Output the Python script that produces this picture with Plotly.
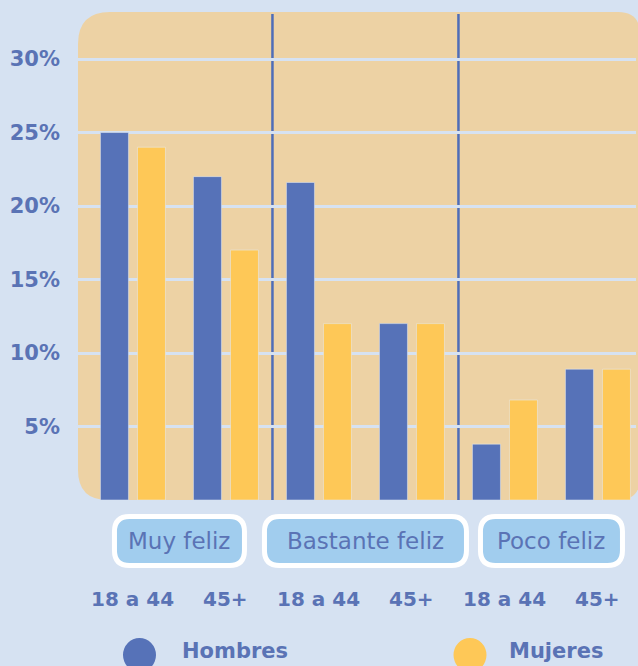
import plotly.graph_objects as go

# data
age_groups = ["18 a 44", "45+", "18 a 44", "45+", "18 a 44", "45+"]
categories = ["Muy feliz", "Bastante feliz", "Poco feliz"]
series_names = ["Hombres", "Mujeres"]
hombres = [25, 22, 21.6, 12, 3.8, 8.9]
mujeres = [24, 17, 12, 12, 6.8, 8.9]
y_ticks = [5, 10, 15, 20, 25, 30]

BLUE = "#5672B8"
YELLOW = "#FEC857"
TEXT = "#5A73B5"
PAGE = "#D6E2F2"
PANEL = "#EDD2A4"
FONT = "DejaVu Sans"

W, H = 638, 666
L, R, T, B = 78, 2, 12, 166
PW, PH = W - L - R, H - T - B
XMIN, XMAX = -0.591, 5.409


def px(x):
    return (x - L) / PW


def py(y):
    return (H - B - y) / PH


def dx(c):
    # data x -> pixel x
    return L + (c - XMIN) / (XMAX - XMIN) * PW


def rounded(x0, y0, x1, y1, rtl, rtr, rbr, rbl):
    p = lambda x, y: f"{px(x):.5f},{py(y):.5f}"
    return (f"M {p(x0 + rtl, y0)} L {p(x1 - rtr, y0)} Q {p(x1, y0)} {p(x1, y0 + rtr)} "
            f"L {p(x1, y1 - rbr)} Q {p(x1, y1)} {p(x1 - rbr, y1)} "
            f"L {p(x0 + rbl, y1)} Q {p(x0, y1)} {p(x0, y1 - rbl)} "
            f"L {p(x0, y0 + rtl)} Q {p(x0, y0)} {p(x0 + rtl, y0)} Z")


x = list(range(len(age_groups)))
fig = go.Figure()
fig.add_trace(go.Bar(x=x, y=hombres, name=series_names[0], marker_color=BLUE))
fig.add_trace(go.Bar(x=x, y=mujeres, name=series_names[1], marker_color=YELLOW))

shapes = [
    dict(type="path", xref="paper", yref="paper", layer="below",
         path=rounded(78, 12, 640, 500, 32, 22, 22, 30),
         fillcolor=PANEL, line_width=0),
]
for sep in (1.5, 3.5):
    shapes.append(dict(type="line", xref="x", yref="paper", layer="between",
                       x0=sep, x1=sep, y0=0, y1=py(14),
                       line=dict(color="#4F6DB8", width=2.5)))

half_widths = [65, 101, 71]
annotations = []
for i, cat in enumerate(categories):
    c = dx(2 * i + 0.5)
    hw = half_widths[i]
    shapes.append(dict(type="path", xref="paper", yref="paper", layer="above",
                       path=rounded(c - hw, 516.5, c + hw, 565.5, 15, 15, 15, 15),
                       fillcolor="#A1CDEE", line=dict(color="white", width=5)))
    annotations.append(dict(x=px(c), y=py(541), xref="paper", yref="paper",
                            text=cat, showarrow=False, xanchor="center", yanchor="middle",
                            font=dict(family=FONT, size=23, color=TEXT)))

for i, lab in enumerate(age_groups):
    annotations.append(dict(x=i, y=py(599), xref="x", yref="paper", text=lab,
                            showarrow=False, xanchor="center", yanchor="middle",
                            font=dict(family=FONT, size=20, color=TEXT, weight=700)))

for name, color, cx, tx in [(series_names[0], BLUE, 139.5, 180), (series_names[1], YELLOW, 470, 507)]:
    shapes.append(dict(type="circle", xref="paper", yref="paper",
                       x0=px(cx - 16.5), x1=px(cx + 16.5), y0=py(672), y1=py(638),
                       fillcolor=color, line_width=0))
    annotations.append(dict(x=px(tx), y=py(651), xref="paper", yref="paper", text=name,
                            showarrow=False, xanchor="left", yanchor="middle",
                            font=dict(family=FONT, size=21, color=TEXT, weight=700)))

fig.update_layout(
    width=W, height=H,
    margin=dict(l=L, r=R, t=T, b=B),
    paper_bgcolor=PAGE, plot_bgcolor="rgba(0,0,0,0)",
    barmode="group", bargap=0.204, bargroupgap=0.244,
    showlegend=False,
    shapes=shapes, annotations=annotations,
    xaxis=dict(range=[XMIN, XMAX], showgrid=False, zeroline=False,
               showticklabels=False, fixedrange=True),
    yaxis=dict(range=[0, 33.2], tickvals=y_ticks, ticktext=[f"{v}%" for v in y_ticks],
               showgrid=True, gridcolor=PAGE, gridwidth=2.5, zeroline=False,
               ticklabelstandoff=17, showline=False, fixedrange=True,
               tickfont=dict(family=FONT, size=21, color=TEXT, weight=700)),
)

fig.write_html("out.html", config={"displayModeBar": False},
               post_script="document.body.style.margin='0';document.body.style.background='#D6E2F2';")
